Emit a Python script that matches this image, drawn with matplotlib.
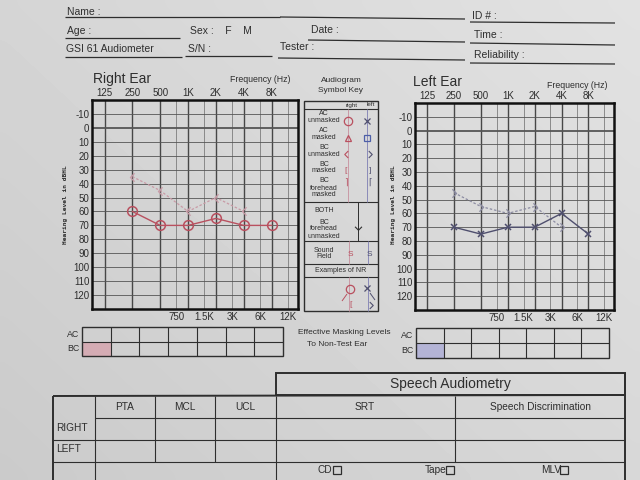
import matplotlib
matplotlib.use("Agg")
import matplotlib.pyplot as plt
import numpy as np
from matplotlib.path import Path
from matplotlib.patches import Rectangle

plt.rcParams['font.family'] = ['Liberation Sans', 'DejaVu Sans']
plt.rcParams['axes.unicode_minus'] = False

# audiogram data (dB HL)
ac_freqs = [250, 500, 1000, 2000, 4000, 8000]
bc_freqs = [250, 500, 1000, 2000, 4000]
right_ac = [60, 70, 70, 65, 70, 70]
right_bc = [35, 45, 60, 50, 60]
left_ac = [70, 75, 70, 70, 60, 75]
left_bc = [45, 55, 60, 55, 70]

octave_freqs = [125, 250, 500, 1000, 2000, 4000, 8000]
octave_labels = ['125', '250', '500', '1K', '2K', '4K', '8K']
mid_freqs = [750, 1500, 3000, 6000, 12000]
mid_labels = ['750', '1.5K', '3K', '6K', '12K']
hl_levels = list(range(-10, 130, 10))

speech_cols = ['PTA', 'MCL', 'UCL', 'SRT', 'Speech Discrimination']
speech_rows = ['RIGHT', 'LEFT']

PAPER = '#d6d6d4'
INK = '#2e2e2e'
RED = '#b9505f'
RED_L = '#c99aa6'
BLUE = '#4f4f6e'
BLUE_L = '#8c8ca2'

W, H = 640, 480
fig = plt.figure(figsize=(6.4, 4.8), dpi=100, facecolor=PAPER)

# whole-page layer in pixel coordinates
form = fig.add_axes([0, 0, 1, 1])
form.set_xlim(0, W)
form.set_ylim(H, 0)
form.axis('off')

# photo-like uneven lighting of the sheet
gx, gy = np.meshgrid(np.linspace(0, 1, 64), np.linspace(0, 1, 48))
shade = 0.885 - 0.05 * (1 - gx) - 0.04 * gy
form.imshow(shade, cmap='gray', vmin=0, vmax=1, extent=(0, W, H, 0),
            interpolation='bicubic', aspect='auto', zorder=0)


def line(x0, y0, x1, y1, lw=0.9, color=INK):
    form.plot([x0, x1], [y0, y1], color=color, lw=lw, solid_capstyle='butt')


def txt(x, y, s, size=7.5, ha='left', va='center', color=INK, **kw):
    form.text(x, y, s, fontsize=size, ha=ha, va=va, color=color, **kw)


# ---- header fields ----
txt(67, 12, 'Name :')
line(65, 17, 280, 17)
line(280, 17, 465, 19)
txt(472, 16, 'ID # :')
line(470, 22, 615, 23)
txt(67, 31, 'Age :')
line(65, 38, 180, 38)
txt(190, 31, 'Sex :    F    M')
txt(311, 30, 'Date :')
line(308, 40, 465, 42)
txt(474, 35, 'Time :')
line(470, 43, 615, 45)
txt(66, 49, 'GSI 61 Audiometer')
line(65, 57, 182, 57)
txt(188, 49, 'S/N :')
line(185, 56, 272, 56)
txt(280, 47, 'Tester :')
line(278, 58, 465, 60)
txt(474, 55, 'Reliability :')
line(470, 63, 615, 64)

caret_l = Path([(0.5, 1), (-0.5, 0), (0.5, -1)], [Path.MOVETO, Path.LINETO, Path.LINETO])
caret_r = Path([(-0.5, 1), (0.5, 0), (-0.5, -1)], [Path.MOVETO, Path.LINETO, Path.LINETO])
caret_d = Path([(-1, 0.5), (0, -0.5), (1, 0.5)], [Path.MOVETO, Path.LINETO, Path.LINETO])


def audiogram(box, title_xy, freq_xy, ylab_x, ac, bc, col, col_l, ac_marker, bc_marker, title):
    x0, y0, x1, y1 = box
    ax = fig.add_axes([x0 / W, 1 - y1 / H, (x1 - x0) / W, (y1 - y0) / H])
    ax.set_facecolor('none')
    ax.set_xscale('log', base=2)
    ax.set_xlim(125 * 2 ** -0.45, 8000 * 2 ** 0.95)
    ax.set_ylim(130, -20)
    ax.xaxis.set_minor_locator(matplotlib.ticker.NullLocator())
    ax.xaxis.tick_top()
    ax.set_xticks(octave_freqs, octave_labels)
    ax.set_yticks(hl_levels)
    ax.tick_params(length=0, labelsize=7, colors=INK, pad=2)
    ax.tick_params(axis='x', pad=1.5)
    for f in octave_freqs:
        ax.axvline(f, color='#474747', lw=1.0, zorder=1)
    for f in mid_freqs:
        ax.axvline(f, color='#7d7d7d', lw=0.6, zorder=1)
    for v in hl_levels:
        ax.axhline(v, color='#555555', lw=1.3 if v == 0 else 0.6, zorder=1)
    for f, s in zip(mid_freqs, mid_labels):
        ax.text(f, -0.015, s, transform=ax.get_xaxis_transform(), fontsize=7,
                ha='center', va='top', color=INK)
    for sp in ax.spines.values():
        sp.set_linewidth(1.8)
        sp.set_color('#111111')
    ax.plot(bc_freqs, bc, color=col_l, lw=0.9, ls=(0, (2, 1.5)), marker=bc_marker,
            ms=6, mfc='none', mec=col_l, mew=0.9, zorder=3)
    ax.plot(ac_freqs, ac, color=col, lw=1.0, marker=ac_marker, ms=7 if ac_marker == 'o' else 5,
            mfc='none', mec=col, mew=1.1, zorder=4)
    txt(title_xy[0], title_xy[1], title, size=10)
    txt(freq_xy[0], freq_xy[1], 'Frequency (Hz)', size=6.3)
    txt(ylab_x, 205, 'Hearing Level in dBHL', size=4.5, rotation=90, ha='center',
        fontweight='bold', family='DejaVu Sans Mono')
    return ax


audiogram((92, 100, 298, 309), (93, 79), (230, 80), 65, right_ac, right_bc, RED, RED_L,
          'o', caret_l, 'Right Ear')
audiogram((415, 103, 614, 310), (413, 82), (547, 85), 394, left_ac, left_bc, BLUE, BLUE_L,
          'x', caret_r, 'Left Ear')

# ---- symbol key ----
txt(341, 81, 'Audiogram', size=6, ha='center')
txt(341, 90, 'Symbol Key', size=6, ha='center')
form.add_patch(Rectangle((304, 101), 74, 210, fill=False, lw=1.0, ec=INK))
for yy in (109, 202, 241, 264, 277):
    line(304, yy, 378, yy, lw=0.8)
txt(352, 105, 'right', size=4.5, ha='center')
txt(371, 105, 'left', size=4.5, ha='center')
line(348, 109, 348, 202, lw=0.7, color=RED_L)
line(367, 109, 367, 202, lw=0.7, color='#8a8ab8')
line(358, 202, 358, 241, lw=0.7)
for xx, c in ((349, RED_L), (368, '#8a8ab8')):
    line(xx, 241, xx, 264, lw=0.7, color=c)
    line(xx, 277, xx, 311, lw=0.7, color=c)
key_rows = [(('AC', 'unmasked'), 117), (('AC', 'masked'), 134), (('BC', 'unmasked'), 151),
            (('BC', 'masked'), 167.5), (('BC', 'forehead', 'masked'), 188)]
for words, yc in key_rows:
    n = len(words)
    for i, w in enumerate(words):
        txt(324, yc + (i - (n - 1) / 2) * 7, w, size=5, ha='center')
form.plot(348, 121, marker='o', ms=6, mfc='none', mec=RED, mew=0.9)
form.plot(367, 121, marker='x', ms=4.5, mec=BLUE, mew=0.9)
form.plot(348, 138, marker='^', ms=5, mfc='none', mec=RED, mew=0.9)
form.plot(367, 138, marker='s', ms=4.5, mfc='none', mec='#4d5fa8', mew=0.9)
form.plot(346, 154, marker=caret_l, ms=5, mfc='none', mec=RED, mew=0.8)
form.plot(370, 154, marker=caret_r, ms=5, mfc='none', mec=BLUE, mew=0.8)
txt(346, 171, '[', size=6, ha='center', color=RED)
txt(370, 171, ']', size=6, ha='center', color=BLUE)
txt(346, 183, '\u2309', size=6.5, ha='center', color=RED, family='DejaVu Sans')
txt(370, 183, '\u2308', size=6.5, ha='center', color=BLUE, family='DejaVu Sans')
txt(324, 211, 'BOTH', size=5, ha='center')
for i, w in enumerate(['BC', 'forehead', 'unmasked']):
    txt(324, 222 + i * 7, w, size=5, ha='center')
form.plot(358, 228, marker=caret_d, ms=5, mfc='none', mec=INK, mew=0.8)
txt(324, 250, 'Sound', size=5, ha='center')
txt(324, 257, 'Field', size=5, ha='center')
txt(350, 255, 'S', size=6, ha='center', color=RED)
txt(369, 255, 'S', size=6, ha='center', color=BLUE)
txt(341, 271, 'Examples of NR', size=5, ha='center')
form.plot(350, 289, marker='o', ms=6, mfc='none', mec=RED, mew=0.9)
line(347, 294, 342, 301, lw=0.7, color=RED)
txt(351, 304, '[', size=6, ha='center', color=RED)
form.plot(367, 288, marker='x', ms=4.5, mec=BLUE, mew=0.9)
line(370, 293, 375, 300, lw=0.7, color=BLUE)
form.plot(371, 305, marker=caret_r, ms=5, mfc='none', mec=BLUE, mew=0.8)


# ---- effective masking level tables ----
def mask_table(x0, x1, top, bottom, lab_x, fill):
    rh = (bottom - top) / 2
    cw = (x1 - x0) / 7
    form.add_patch(Rectangle((x0, top + rh), cw, rh, fc=fill, ec='none', alpha=0.85))
    form.add_patch(Rectangle((x0, top), x1 - x0, bottom - top, fill=False, lw=1.0, ec=INK))
    line(x0, top + rh, x1, top + rh, lw=0.8)
    for i in range(1, 7):
        line(x0 + i * cw, top, x0 + i * cw, bottom, lw=0.8)
    txt(lab_x, top + rh / 2, 'AC', size=6.3, ha='right')
    txt(lab_x, top + rh * 1.5, 'BC', size=6.3, ha='right')


mask_table(82, 283, 327, 356, 79, '#d6a6b0')
mask_table(416, 609, 328, 358, 413, '#aeaed6')
txt(344, 332, 'Effective Masking Levels', size=6, ha='center')
txt(337, 345, 'To Non-Test Ear', size=6, ha='center')

# ---- speech audiometry ----
form.add_patch(Rectangle((276, 373), 349, 22, fill=False, lw=1.4, ec=INK))
txt(450, 384, 'Speech Audiometry', size=10, ha='center')
line(53, 396, 625, 395, lw=1.4)
line(53, 396, 53, 480, lw=1.4)
line(625, 373, 625, 480, lw=1.4)
for yy in (418, 440, 462):
    line(95 if yy == 418 else 53, yy, 625, yy, lw=0.8)
for xx in (155, 215, 455):
    line(xx, 396, xx, 462, lw=0.8)
for xx in (95, 276):
    line(xx, 396, xx, 480, lw=0.8)
col_x = [125, 185, 245, 365, 540]
for cx, name in zip(col_x, speech_cols):
    txt(cx, 407, name, size=7.3, ha='center')
for yy, name in zip((428, 449), speech_rows):
    txt(56, yy, name, size=7.3)
for x, name in ((318, 'CD'), (425, 'Tape'), (541, 'MLV')):
    txt(x, 470, name, size=7.3)
    tw = {'CD': 14, 'Tape': 20, 'MLV': 18}[name]
    form.add_patch(Rectangle((x + tw + 1, 465.5), 8, 8, fill=False, lw=0.9, ec=INK))

fig.savefig('out.png', dpi=100, facecolor=PAPER)
